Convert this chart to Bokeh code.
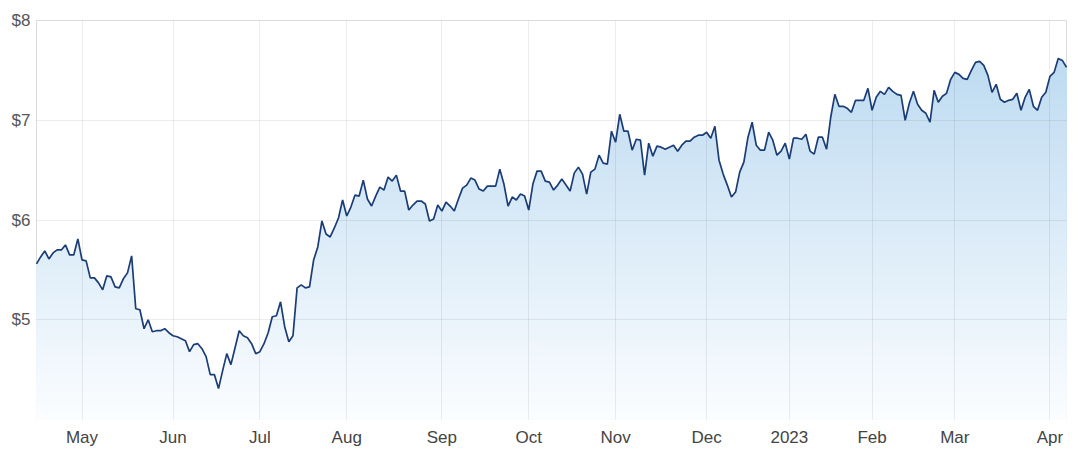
import numpy as np
from bokeh.plotting import figure
from bokeh.models import Range1d, FixedTicker, PrintfTickFormatter
from bokeh.embed import file_html
from bokeh.resources import INLINE

# Daily closing prices (trading days, Apr 2022 - Apr 2023)
prices = [
    5.56, 5.63, 5.69, 5.61, 5.67, 5.70, 5.70, 5.75, 5.65, 5.65,
    5.81, 5.60, 5.59, 5.42, 5.42, 5.37, 5.30, 5.44, 5.43, 5.33,
    5.32, 5.41, 5.47, 5.64, 5.11, 5.10, 4.91, 5.00, 4.88, 4.89,
    4.89, 4.91, 4.87, 4.84, 4.83, 4.81, 4.79, 4.68, 4.75, 4.76,
    4.71, 4.63, 4.45, 4.45, 4.31, 4.49, 4.66, 4.55, 4.72, 4.89,
    4.84, 4.82, 4.76, 4.66, 4.68, 4.76, 4.87, 5.03, 5.04, 5.18,
    4.93, 4.78, 4.84, 5.32, 5.35, 5.32, 5.33, 5.60, 5.73, 5.99,
    5.86, 5.83, 5.92, 6.02, 6.20, 6.04, 6.13, 6.25, 6.24, 6.40,
    6.21, 6.14, 6.24, 6.33, 6.30, 6.43, 6.39, 6.45, 6.29, 6.29,
    6.10, 6.15, 6.19, 6.19, 6.16, 5.99, 6.01, 6.15, 6.09, 6.18,
    6.14, 6.09, 6.21, 6.32, 6.35, 6.42, 6.40, 6.31, 6.29, 6.34,
    6.34, 6.34, 6.51, 6.36, 6.14, 6.23, 6.20, 6.26, 6.24, 6.10,
    6.36, 6.49, 6.49, 6.39, 6.38, 6.30, 6.35, 6.41, 6.35, 6.29,
    6.47, 6.53, 6.46, 6.26, 6.48, 6.51, 6.65, 6.57, 6.56, 6.89,
    6.78, 7.06, 6.89, 6.89, 6.70, 6.81, 6.80, 6.45, 6.77, 6.64,
    6.74, 6.73, 6.71, 6.73, 6.75, 6.69, 6.75, 6.79, 6.79, 6.83,
    6.85, 6.85, 6.88, 6.82, 6.94, 6.60, 6.46, 6.35, 6.23, 6.28,
    6.48, 6.58, 6.83, 6.98, 6.75, 6.70, 6.70, 6.88, 6.80, 6.65,
    6.69, 6.77, 6.61, 6.82, 6.82, 6.81, 6.86, 6.69, 6.66, 6.83,
    6.83, 6.71, 7.03, 7.26, 7.14, 7.14, 7.12, 7.08, 7.20, 7.20,
    7.20, 7.32, 7.10, 7.23, 7.29, 7.26, 7.33, 7.29, 7.26, 7.25,
    7.00, 7.17, 7.29, 7.16, 7.10, 7.07, 6.98, 7.30, 7.18, 7.24,
    7.27, 7.41, 7.48, 7.46, 7.42, 7.41, 7.50, 7.58, 7.59, 7.55,
    7.45, 7.28, 7.36, 7.21, 7.18, 7.20, 7.21, 7.27, 7.10, 7.23,
    7.31, 7.14, 7.10, 7.23, 7.28, 7.44, 7.48, 7.62, 7.60, 7.53,
]

# First trading day of each month (index into prices) and its label
month_index = [11, 33, 54, 75, 98, 119, 140, 162, 182, 202, 222, 245]
month_labels = ["May", "Jun", "Jul", "Aug", "Sep", "Oct", "Nov", "Dec",
                "2023", "Feb", "Mar", "Apr"]
y_ticks = [5, 6, 7, 8]

x = np.arange(len(prices))
v = np.array(prices)

p = figure(frame_width=1030, frame_height=399, output_backend="svg",
           toolbar_location=None,
           x_range=Range1d(0, len(prices) - 1), y_range=Range1d(4, 8),
           min_border_left=36, min_border_right=20, min_border_top=20,
           min_border_bottom=34)
p.background_fill_color = "white"
p.border_fill_color = "white"

# vertical gradient fill under the line, built from stacked bands
top_c = np.array([190, 219, 241])
bot_c = np.array([251, 253, 255])
vmax = v.max()
levels = np.arange(4.0, vmax + 0.02, 0.02)[::-1]
for b in levels:
    t = min(max((b - 4.0) / (vmax - 4.0), 0.0), 1.0)
    c = bot_c + t * (top_c - bot_c)
    col = "#%02x%02x%02x" % tuple(int(round(k)) for k in c)
    p.varea(x=x, y1=4.0, y2=np.minimum(v, b), fill_color=col, fill_alpha=1.0)

ln = p.line(x, v, line_color="#1b3d75", line_width=1.7)
ln.level = "overlay"

p.xaxis.ticker = FixedTicker(ticks=month_index)
p.xaxis.major_label_overrides = {i: l for i, l in zip(month_index, month_labels)}
p.yaxis.ticker = FixedTicker(ticks=y_ticks)
p.yaxis.formatter = PrintfTickFormatter(format="$%d")

for ax in (p.xaxis, p.yaxis):
    ax.axis_line_color = None
    ax.major_tick_line_color = None
    ax.minor_tick_line_color = None
    ax.major_tick_out = 0
    ax.major_tick_in = 0
    ax.minor_tick_out = 0
    ax.minor_tick_in = 0
    ax.major_label_text_font = "Liberation Sans"
    ax.major_label_text_font_size = "17px"
p.xaxis.major_label_text_color = "#444444"
p.yaxis.major_label_text_color = "#555555"
p.xaxis.major_label_standoff = 8
p.yaxis.major_label_standoff = 6

for g in (p.xgrid, p.ygrid):
    g.grid_line_color = "#000000"
    g.grid_line_alpha = 0.07
    g.grid_line_width = 1
    g.level = "guide"
p.outline_line_color = "#dcdcdc"
p.outline_line_width = 1

open("out.html", "w").write(file_html(p, INLINE))
